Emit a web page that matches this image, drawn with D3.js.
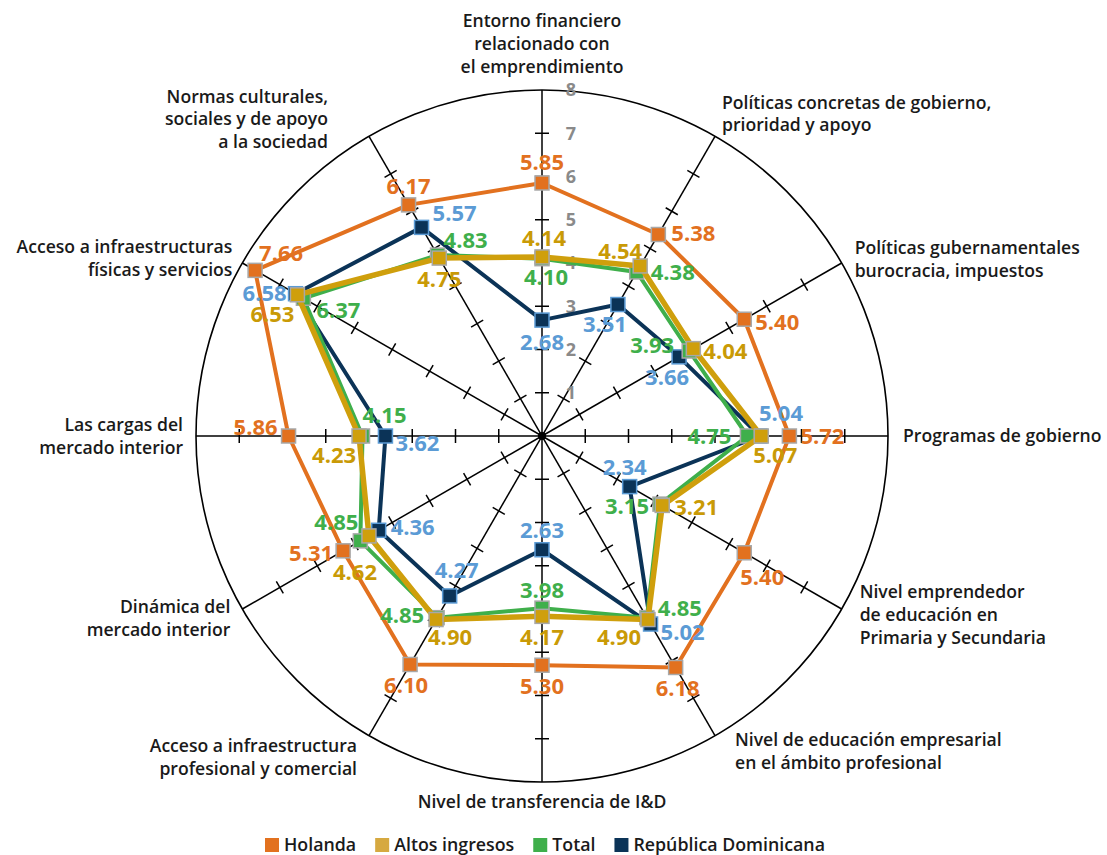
<!DOCTYPE html>
<html>
<head>
<meta charset="utf-8">
<script src="https://cdn.jsdelivr.net/npm/d3@7"></script>
<style>
  body { margin: 0; background: #fff; }
  svg { font-family: "Open Sans", sans-serif; }
  .axis-label { font-size: 17.6px; font-weight: 600; fill: #1a1a1a; }
  .value-label { font-size: 22px; font-weight: 700; }
  .tick-label { font-size: 18px; font-weight: 700; fill: #8a8a8a; }
  .legend text { font-size: 17.8px; font-weight: 600; fill: #1a1a1a; }
</style>
</head>
<body>
<svg width="1107" height="855"></svg>
<script>
// categories, clockwise from the top
const axisNames = [
  ["Entorno financiero", "relacionado con", "el emprendimiento"],
  ["Políticas concretas de gobierno,", "prioridad y apoyo"],
  ["Políticas gubernamentales", "burocracia, impuestos"],
  ["Programas de gobierno"],
  ["Nivel emprendedor", "de educación en", "Primaria y Secundaria"],
  ["Nivel de educación empresarial", "en el ámbito profesional"],
  ["Nivel de transferencia de I&D"],
  ["Acceso a infraestructura", "profesional y comercial"],
  ["Dinámica del", "mercado interior"],
  ["Las cargas del", "mercado interior"],
  ["Acceso a infraestructuras", "físicas y servicios"],
  ["Normas culturales,", "sociales y de apoyo", "a la sociedad"]
];

const seriesNames = ["Holanda", "Altos ingresos", "Total", "República Dominicana"];

const holanda = [5.85, 5.38, 5.40, 5.72, 5.40, 6.18, 5.30, 6.10, 5.31, 5.86, 7.66, 6.17];
const altosIngresos = [4.14, 4.54, 4.04, 5.07, 3.21, 4.90, 4.17, 4.90, 4.62, 4.23, 6.53, 4.75];
const total = [4.10, 4.38, 3.93, 4.75, 3.15, 4.85, 3.98, 4.85, 4.85, 4.15, 6.37, 4.83];
const repDominicana = [2.68, 3.51, 3.66, 5.04, 2.34, 5.02, 2.63, 4.27, 4.36, 3.62, 6.58, 5.57];

const tickValues = [1, 2, 3, 4, 5, 6, 7, 8];

// label nudges (px) so the numbers don't sit on each other
const labelNudge = {
  "Holanda": [[0,-21],[35,-1],[33,3],[33,0],[18,24],[2,21],[0,21],[-4,21],[-32,2],[-33,-9],[26,-17],[0,-19]],
  "Altos ingresos": [[2,-19],[-20,-15],[32,2],[14,19],[34,2],[-29,18],[0,21],[14,18],[-14,36],[-25,19],[-25,19],[0,21]],
  "Total": [[4,18],[36,0],[-37,-6],[-38,0],[-33,2],[33,-10],[0,-18],[-35,-3],[-24,-19],[22,-21],[35,12],[28,-15]],
  "República Dominicana": [[0,22],[-13,20],[-12,20],[21,-23],[-5,-20],[32,8],[0,-20],[7,-26],[34,-3],[32,7],[-31,-1],[33,-14]]
};

// axis title placement relative to where the axis meets the circle
const axisLabelPos = [
  ["middle", 0, -69], ["start", 7, -34], ["start", 13, -15], ["start", 15, 0],
  ["start", 18, -17], ["start", 20, 4], ["middle", 0, 20], ["end", -12, 10],
  ["end", -12, -2], ["end", -13, -11], ["end", -10, -16], ["end", -41, -40]
];

const series = [
  { name: "Holanda", values: holanda, line: "#E2711F", text: "#E2711F", swatch: "#E2711F", stroke: "#a8a8a8", width: 4 },
  { name: "República Dominicana", values: repDominicana, line: "#0B3357", text: "#5B9BD5", swatch: "#0B3357", stroke: "#5B9BD5", width: 4 },
  { name: "Total", values: total, line: "#3FAF4B", text: "#3FAF4B", swatch: "#3FAF4B", stroke: "#a8a8a8", width: 4 },
  { name: "Altos ingresos", values: altosIngresos, line: "#CF9F0C", text: "#C99A06", swatch: "#D6A940", stroke: "#a8a8a8", width: 5.5 }
];

const svg = d3.select("svg");
const cx = 542, cy = 436, radius = 346;
const n = axisNames.length;

const rScale = d3.scaleLinear().domain([0, 8]).range([0, radius]);
const angle = i => (i * 2 * Math.PI) / n;

const g = svg.append("g").attr("transform", `translate(${cx},${cy})`);

// outer circle
g.append("circle")
  .attr("r", rScale(8))
  .attr("fill", "none")
  .attr("stroke", "#000")
  .attr("stroke-width", 1.6);

// spokes
g.selectAll(".spoke").data(axisNames).enter()
  .append("line")
  .attr("class", "spoke")
  .attr("x1", 0).attr("y1", 0)
  .attr("x2", (d, i) => d3.pointRadial(angle(i), rScale(8))[0])
  .attr("y2", (d, i) => d3.pointRadial(angle(i), rScale(8))[1])
  .attr("stroke", "#000")
  .attr("stroke-width", 1.5);

// tick crosses on every spoke
const tickData = [];
axisNames.forEach((d, i) => tickValues.slice(0, -1).forEach(v => tickData.push({ i, v })));
g.selectAll(".tick").data(tickData).enter()
  .append("line")
  .attr("class", "tick")
  .each(function (d) {
    const a = angle(d.i);
    const [px, py] = d3.pointRadial(a, rScale(d.v));
    const ux = Math.cos(a) * 7, uy = Math.sin(a) * 7;
    d3.select(this)
      .attr("x1", px - ux).attr("y1", py - uy)
      .attr("x2", px + ux).attr("y2", py + uy);
  })
  .attr("stroke", "#000")
  .attr("stroke-width", 1.5);

g.append("circle").attr("r", 4).attr("fill", "#000");

// scale numbers on the top spoke
g.selectAll(".tick-label").data(tickValues).enter()
  .append("text")
  .attr("class", "tick-label")
  .attr("x", 29)
  .attr("y", d => -rScale(d))
  .attr("dy", "0.35em")
  .attr("text-anchor", "middle")
  .text(d => d);

// axis titles
g.selectAll(".axis-label").data(axisNames).enter()
  .append("text")
  .attr("class", "axis-label")
  .each(function (lines, i) {
    const [px, py] = d3.pointRadial(angle(i), rScale(8));
    const [anchor, dx, dy] = axisLabelPos[i];
    const t = d3.select(this).attr("text-anchor", anchor);
    lines.forEach((l, k) => {
      t.append("tspan")
        .attr("x", px + dx)
        .attr("y", py + dy + k * 22.7)
        .attr("dy", "0.35em")
        .text(l);
    });
  });

// series lines
const radarLine = d3.lineRadial()
  .angle((d, i) => angle(i))
  .radius(d => rScale(d))
  .curve(d3.curveLinearClosed);

const seriesG = g.selectAll(".series").data(series).enter()
  .append("g").attr("class", "series");

seriesG.append("path")
  .attr("d", d => radarLine(d.values))
  .attr("fill", "none")
  .attr("stroke", d => d.line)
  .attr("stroke-width", d => d.width)
  .attr("stroke-linejoin", "round");

seriesG.each(function (s) {
  d3.select(this).selectAll("rect").data(s.values).enter()
    .append("rect")
    .attr("x", (v, i) => d3.pointRadial(angle(i), rScale(v))[0] - 7)
    .attr("y", (v, i) => d3.pointRadial(angle(i), rScale(v))[1] - 7)
    .attr("width", 14)
    .attr("height", 14)
    .attr("fill", s.line)
    .attr("stroke", s.stroke)
    .attr("stroke-width", 1.5);
});

// value labels on top of everything
series.forEach(s => {
  g.append("g").selectAll("text").data(s.values).enter()
    .append("text")
    .attr("class", "value-label")
    .attr("x", (v, i) => d3.pointRadial(angle(i), rScale(v))[0] + labelNudge[s.name][i][0])
    .attr("y", (v, i) => d3.pointRadial(angle(i), rScale(v))[1] + labelNudge[s.name][i][1])
    .attr("dy", "0.36em")
    .attr("text-anchor", "middle")
    .attr("fill", s.text)
    .text(v => v.toFixed(2));
});

// legend
const legendOrder = seriesNames.map(name => series.find(s => s.name === name));
const legend = svg.append("g").attr("class", "legend").attr("transform", "translate(265,845)");
let lx = 0;
legendOrder.forEach(s => {
  const item = legend.append("g").attr("transform", `translate(${lx},0)`);
  item.append("rect")
    .attr("x", 0).attr("y", -7)
    .attr("width", 14).attr("height", 14)
    .attr("fill", s.swatch);
  const t = item.append("text")
    .attr("x", 19).attr("dy", "0.35em")
    .text(s.name);
  lx += 19 + t.node().getComputedTextLength() + 19;
});
</script>
</body>
</html>
